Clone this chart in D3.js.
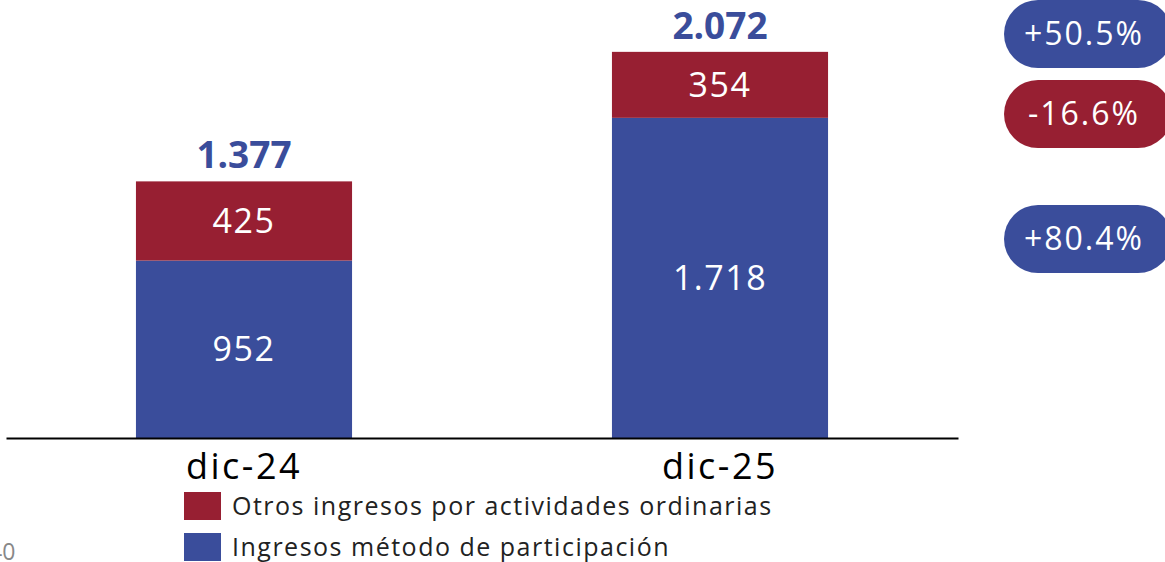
<!DOCTYPE html>
<html>
<head>
<meta charset="utf-8">
<script src="https://cdn.jsdelivr.net/npm/d3@7"></script>
<style>
  body { margin: 0; background: #fff; }
  text { font-family: "Open Sans", "Noto Sans", sans-serif; }
</style>
</head>
<body>
<div id="chart"></div>
<script>
// Data
var categories = ["dic-24", "dic-25"];
var participacion = [952, 1718];
var otros = [425, 354];
var totalLabels = ["1.377", "2.072"];
var participacionLabels = ["952", "1.718"];
var otrosLabels = ["425", "354"];
var seriesNames = ["Otros ingresos por actividades ordinarias", "Ingresos método de participación"];
var changeLabels = ["+50.5%", "-16.6%", "+80.4%"];

var blue = "#3A4D9B";
var red = "#971F32";

var svgWidth = 1165;
var svgHeight = 562;

var svg = d3.select("#chart")
    .append("svg")
    .attr("width", svgWidth)
    .attr("height", svgHeight);

var x = d3.scaleBand()
    .domain(categories)
    .range([6, 958])
    .paddingInner(0.546)
    .paddingOuter(0.273);

var y = d3.scaleLinear()
    .domain([0, 2200])
    .range([438, 28]);

var rows = categories.map(function(c, i) {
    return { cat: c, part: participacion[i], otros: otros[i], total: participacion[i] + otros[i], i: i };
});

// blue segments
svg.selectAll("rect.part")
    .data(rows)
    .enter().append("rect")
    .attr("class", "part")
    .attr("x", d => x(d.cat))
    .attr("width", x.bandwidth())
    .attr("y", d => y(d.part))
    .attr("height", d => y(0) - y(d.part))
    .attr("fill", blue);

// red segments
svg.selectAll("rect.otros")
    .data(rows)
    .enter().append("rect")
    .attr("class", "otros")
    .attr("x", d => x(d.cat))
    .attr("width", x.bandwidth())
    .attr("y", d => y(d.total))
    .attr("height", d => y(d.part) - y(d.total))
    .attr("fill", red);

// segment labels
svg.selectAll("text.partLbl")
    .data(rows)
    .enter().append("text")
    .attr("x", d => x(d.cat) + x.bandwidth() / 2)
    .attr("y", d => (y(0) + y(d.part)) / 2)
    .attr("dy", "0.35em")
    .attr("text-anchor", "middle")
    .attr("fill", "#fff")
    .style("font-size", "34px")
    .style("letter-spacing", "1.5px")
    .text(d => participacionLabels[d.i]);

svg.selectAll("text.otrosLbl")
    .data(rows)
    .enter().append("text")
    .attr("x", d => x(d.cat) + x.bandwidth() / 2)
    .attr("y", d => (y(d.part) + y(d.total)) / 2)
    .attr("dy", "0.35em")
    .attr("text-anchor", "middle")
    .attr("fill", "#fff")
    .style("font-size", "34px")
    .style("letter-spacing", "1.5px")
    .text(d => otrosLabels[d.i]);

// totals
svg.selectAll("text.total")
    .data(rows)
    .enter().append("text")
    .attr("x", d => x(d.cat) + x.bandwidth() / 2)
    .attr("y", d => y(d.total) - 13)
    .attr("text-anchor", "middle")
    .attr("fill", blue)
    .style("font-size", "37px")
    .style("font-weight", "bold")
    .text(d => totalLabels[d.i]);

// x axis
var xAxis = svg.append("g")
    .attr("transform", "translate(0," + y(0) + ")")
    .call(d3.axisBottom(x).tickSize(0).tickPadding(15).tickSizeOuter(0));
xAxis.select(".domain").attr("stroke", "#000").attr("stroke-width", 2);
xAxis.selectAll("text")
    .attr("fill", "#000")
    .style("font-size", "36px")
    .style("letter-spacing", "2.5px")
    .style("font-family", "'Open Sans', sans-serif");

// legend
var legendColors = [red, blue];
var legend = svg.selectAll("g.legend")
    .data(seriesNames)
    .enter().append("g")
    .attr("transform", (d, i) => "translate(184," + (492 + i * 41) + ")");
legend.append("rect")
    .attr("width", 37)
    .attr("height", 28)
    .attr("fill", (d, i) => legendColors[i]);
legend.append("text")
    .attr("x", 48)
    .attr("y", 14)
    .attr("dy", "0.35em")
    .attr("fill", "#222")
    .style("font-size", "25px")
    .style("letter-spacing", "1.5px")
    .text(d => d);

// cut-off stray label
svg.append("text")
    .attr("x", -11)
    .attr("y", 560)
    .attr("fill", "#888")
    .style("font-size", "23px")
    .text("40");

// change pills
var pillY = [0, 80, 205];
var pillColors = [blue, red, blue];
var pills = svg.selectAll("g.pill")
    .data(changeLabels)
    .enter().append("g")
    .attr("transform", (d, i) => "translate(1004," + pillY[i] + ")");
pills.append("rect")
    .attr("width", 168)
    .attr("height", 68)
    .attr("rx", 34)
    .attr("fill", (d, i) => pillColors[i]);
pills.append("text")
    .attr("x", 80)
    .attr("y", 34)
    .attr("dy", "0.35em")
    .attr("text-anchor", "middle")
    .attr("fill", "#fff")
    .style("font-size", "32px")
    .style("letter-spacing", "2px")
    .text(d => d);
</script>
</body>
</html>
